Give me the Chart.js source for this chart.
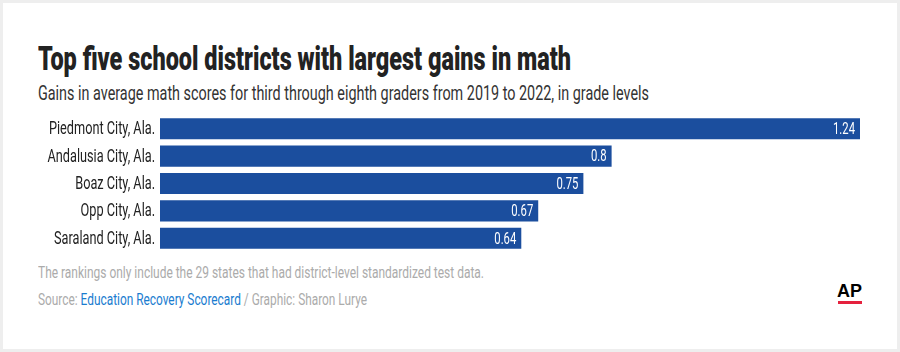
<!DOCTYPE html>
<html lang="en">
<head>
    <meta charset="UTF-8">
    <title>Top five school districts with largest gains in math</title>
    <script src="https://cdn.jsdelivr.net/npm/chart.js"></script>
    <style>
        html, body {
            margin: 0;
            padding: 0;
        }

        body {
            width: 900px;
            height: 352px;
            box-sizing: border-box;
            border: 3px solid #eeeeee;
            background: #ffffff;
            position: relative;
            overflow: hidden;
            font-family: Roboto, sans-serif;
        }

        /* text blocks get squeezed to the reference width by fitWidth() */
        .fit {
            position: absolute;
            white-space: nowrap;
            line-height: 1;
            transform-origin: 0 0;
        }

        .title {
            left: 35px;
            top: 39px;
            font-size: 33px;
            font-weight: 900;
            color: #222222;
        }

        .subtitle {
            left: 35px;
            top: 80px;
            font-size: 21px;
            color: #333333;
        }

        .note {
            left: 35px;
            top: 261px;
            font-size: 17px;
            color: #ababab;
        }

        .source {
            left: 35px;
            top: 288px;
            font-size: 17px;
            color: #ababab;
        }

        .source span {
            color: #1a7ccf;
        }

        .ap {
            left: 834px;
            top: 279px;
            font-family: "Liberation Sans", sans-serif;
            font-weight: bold;
            font-size: 18px;
            color: #000000;
        }

        .ap-line {
            position: absolute;
            left: 835px;
            top: 298px;
            width: 24px;
            height: 3px;
            background: #e5213e;
        }

        .chart-box {
            position: absolute;
            left: -3px;
            top: 112px;
            width: 860px;
            height: 137px;
        }
    </style>
</head>
<body>
    <div class="fit title" data-w="533">Top five school districts with largest gains in math</div>
    <div class="fit subtitle" data-w="611">Gains in average math scores for third through eighth graders from 2019 to 2022, in grade levels</div>

    <div class="chart-box">
        <canvas id="gainsChart"></canvas>
    </div>

    <div class="fit note" data-w="446">The rankings only include the 29 states that had district-level standardized test data.</div>
    <div class="fit source" data-w="329">Source: <span>Education Recovery Scorecard</span> / Graphic: Sharon Lurye</div>

    <div class="fit ap" data-w="25">AP</div>
    <div class="ap-line"></div>

    <script>
        const districts = ['Piedmont City, Ala.', 'Andalusia City, Ala.', 'Boaz City, Ala.', 'Opp City, Ala.', 'Saraland City, Ala.'];
        const gains = [1.24, 0.8, 0.75, 0.67, 0.64];
        const gainLabels = ['1.24', '0.8', '0.75', '0.67', '0.64'];

        function fitWidth(el) {
            const w = el.getBoundingClientRect().width;
            el.style.transform = 'scaleX(' + (Number(el.dataset.w) / w) + ')';
        }
        document.querySelectorAll('.fit').forEach(fitWidth);

        // Roboto is too wide, so the canvas text is squeezed the same way
        function squeezedText(ctx, text, x, y, sx) {
            ctx.save();
            ctx.translate(x, y);
            ctx.scale(sx, 1);
            ctx.fillText(text, 0, 0);
            ctx.restore();
        }

        const condensedLabels = {
            id: 'condensedLabels',
            afterDatasetsDraw(chart) {
                const ctx = chart.ctx;
                const yScale = chart.scales.y;
                const meta = chart.getDatasetMeta(0);
                ctx.save();
                ctx.textAlign = 'right';
                ctx.textBaseline = 'middle';

                // district names left of the bars
                ctx.font = '18px Roboto, sans-serif';
                ctx.fillStyle = '#222222';
                const sxName = 106 / ctx.measureText(districts[0]).width;
                districts.forEach((name, i) => {
                    squeezedText(ctx, name, chart.chartArea.left - 5, yScale.getPixelForTick(i) + 1, sxName);
                });

                // values inside the bar ends
                ctx.font = '17px Roboto, sans-serif';
                ctx.fillStyle = '#ffffff';
                const sxVal = 22 / ctx.measureText(gainLabels[0]).width;
                meta.data.forEach((bar, i) => {
                    squeezedText(ctx, gainLabels[i], bar.x - 5, bar.y + 1, sxVal);
                });
                ctx.restore();
            }
        };

        new Chart(document.getElementById('gainsChart'), {
            type: 'bar',
            data: {
                labels: districts,
                datasets: [{
                    data: gains,
                    backgroundColor: '#1b4e9e',
                    borderWidth: 0,
                    categoryPercentage: 1,
                    barPercentage: 0.77
                }]
            },
            options: {
                indexAxis: 'y',
                responsive: true,
                maintainAspectRatio: false,
                animation: false,
                layout: { padding: { left: 160, right: 0, top: 0, bottom: 0 } },
                plugins: {
                    legend: { display: false },
                    tooltip: { enabled: false }
                },
                scales: {
                    x: { display: false, min: 0, max: 1.24 },
                    y: { display: false }
                }
            },
            plugins: [condensedLabels]
        });
    </script>
</body>
</html>
